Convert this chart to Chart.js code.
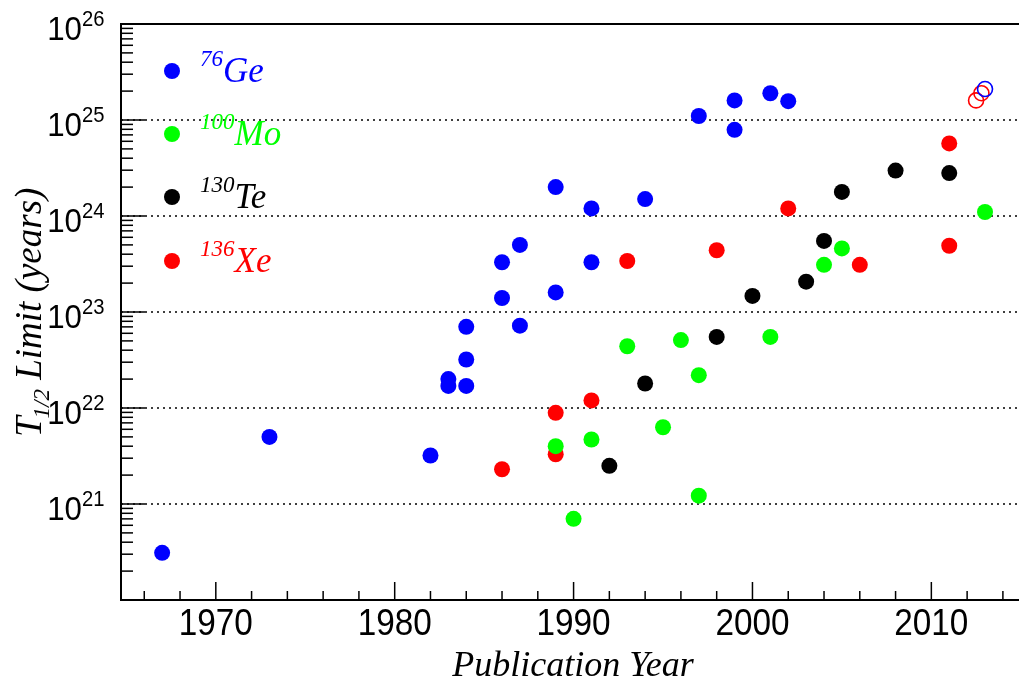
<!DOCTYPE html>
<html>
<head>
<meta charset="utf-8">
<title>Double beta decay half-life limits</title>
<script src="https://cdn.jsdelivr.net/npm/chart.js@4.4.1/dist/chart.umd.min.js"></script>
<style>
  html, body { margin: 0; padding: 0; background: #fff; }
  canvas { display: block; }
</style>
</head>
<body>
<canvas id="limitChart" width="1019" height="690"></canvas>
<script>
// T1/2 limits (years) against publication year, per isotope
const geYears  = [1967, 1973, 1982, 1983, 1983, 1984, 1984, 1984, 1986, 1986, 1987, 1987, 1989, 1989, 1991, 1991, 1994, 1997, 1999, 1999, 2001, 2002];
const geLimits = [3.1e20, 5.0e21, 3.2e21, 2.0e22, 1.7e22, 1.7e22, 3.2e22, 7.0e22, 3.3e23, 1.4e23, 5.0e23, 7.2e22, 2.0e24, 1.6e23, 1.2e24, 3.3e23, 1.5e24, 1.1e25, 1.6e25, 7.9e24, 1.9e25, 1.57e25];

const moYears  = [1989, 1990, 1991, 1993, 1995, 1996, 1997, 1997, 2001, 2004, 2005, 2013];
const moLimits = [4.0e21, 7.0e20, 4.7e21, 4.4e22, 6.3e21, 5.1e22, 2.2e22, 1.22e21, 5.5e22, 3.1e23, 4.6e23, 1.1e24];

const teYears  = [1992, 1994, 1998, 2000, 2003, 2004, 2005, 2008, 2011];
const teLimits = [2.5e21, 1.8e22, 5.5e22, 1.47e23, 2.07e23, 5.5e23, 1.78e24, 2.97e24, 2.8e24];

const xeYears  = [1986, 1989, 1989, 1991, 1993, 1998, 2002, 2006, 2011, 2011];
const xeLimits = [2.3e21, 8.9e21, 3.3e21, 1.2e22, 3.4e23, 4.4e23, 1.2e24, 3.1e23, 5.7e24, 4.9e23];

// projected sensitivities (open markers)
const geProjYears  = [2013];
const geProjLimits = [2.1e25];
const xeProjYears  = [2012.5, 2012.8];
const xeProjLimits = [1.6e25, 1.9e25];

const xLabelYears = [1970, 1980, 1990, 2000, 2010];
const yLabelExponents = [21, 22, 23, 24, 25, 26];

const legendMasses  = ['76', '100', '130', '136'];
const legendSymbols = ['Ge', 'Mo', 'Te', 'Xe'];
const legendColors  = ['#0000ff', '#00ff00', '#000000', '#ff0000'];

const toPoints = (xs, ys) => xs.map((v, i) => ({ x: v, y: ys[i] }));

function filled(xs, ys, color) {
  return { data: toPoints(xs, ys), backgroundColor: color, borderWidth: 0, pointRadius: 8, pointHoverRadius: 8 };
}
function open(xs, ys, color) {
  return { data: toPoints(xs, ys), backgroundColor: 'rgba(0,0,0,0)', borderColor: color, borderWidth: 1.6, pointRadius: 7.5, pointHoverRadius: 7.5 };
}

const SANS = '"Liberation Sans", Arial, sans-serif';
const SERIF = '"Liberation Serif", "Times New Roman", serif';

// axes, ticks, labels, titles and legend drawn on the canvas
const frame = {
  id: 'frame',
  beforeDatasetsDraw(chart) {
    const { ctx, chartArea: a, scales: { x, y } } = chart;
    ctx.save();

    // dotted grid at each decade
    ctx.strokeStyle = '#000';
    ctx.lineWidth = 1.5;
    ctx.setLineDash([2, 4]);
    for (let e = 21; e <= 25; e++) {
      const py = Math.round(y.getPixelForValue(Math.pow(10, e)));
      ctx.beginPath(); ctx.moveTo(a.left, py); ctx.lineTo(a.right, py); ctx.stroke();
    }
    ctx.setLineDash([]);

    // frame lines
    ctx.lineWidth = 2;
    ctx.beginPath();
    ctx.moveTo(a.right, a.top); ctx.lineTo(a.left, a.top);
    ctx.lineTo(a.left, a.bottom); ctx.lineTo(a.right, a.bottom);
    ctx.stroke();

    // y ticks, pointing inward
    ctx.lineWidth = 1.5;
    for (let e = 20; e <= 25; e++) {
      for (let m = 1; m <= 9; m++) {
        const py = y.getPixelForValue(m * Math.pow(10, e));
        const len = m === 1 ? 24 : 12;
        ctx.beginPath(); ctx.moveTo(a.left, py); ctx.lineTo(a.left + len, py); ctx.stroke();
      }
    }
    // x ticks every two years
    for (let yr = 1966; yr <= 2014; yr += 2) {
      const px = x.getPixelForValue(yr);
      const len = yr % 10 === 0 ? 18 : 9;
      ctx.beginPath(); ctx.moveTo(px, a.bottom); ctx.lineTo(px, a.bottom - len); ctx.stroke();
    }

    // tick labels
    ctx.fillStyle = '#000';
    ctx.textBaseline = 'alphabetic';
    xLabelYears.forEach(yr => {
      const px = x.getPixelForValue(yr);
      ctx.save();
      ctx.translate(px, a.bottom + 35);
      ctx.scale(0.9, 1);
      ctx.font = '37px ' + SANS;
      ctx.textAlign = 'center';
      ctx.fillText(String(yr), 0, 0);
      ctx.restore();
    });
    yLabelExponents.forEach(e => {
      const py = y.getPixelForValue(Math.pow(10, e));
      ctx.save();
      ctx.translate(82, py);
      ctx.scale(0.92, 1);
      ctx.font = '34px ' + SANS;
      ctx.textAlign = 'right';
      ctx.fillText('10', 0, 16);
      ctx.font = '22px ' + SANS;
      ctx.textAlign = 'left';
      ctx.fillText(String(e), 0, 2);
      ctx.restore();
    });

    // axis titles
    ctx.font = 'italic 36px ' + SERIF;
    ctx.textAlign = 'center';
    ctx.fillText('Publication Year', 573, 676);

    ctx.save();
    ctx.translate(41, 437);
    ctx.rotate(-Math.PI / 2);
    ctx.textAlign = 'left';
    ctx.font = 'italic 37px ' + SERIF;
    ctx.fillText('T', 0, 0);
    let cx = ctx.measureText('T').width;
    ctx.font = 'italic 23px ' + SERIF;
    ctx.fillText('1/2', cx - 2, 8);
    cx += ctx.measureText('1/2').width - 2;
    ctx.font = 'italic 37px ' + SERIF;
    ctx.fillText(' Limit (years)', cx, 0);
    ctx.restore();

    // legend
    const rows = [71, 134, 197, 261];
    legendSymbols.forEach((sym, i) => {
      const ry = rows[i];
      ctx.fillStyle = legendColors[i];
      ctx.beginPath(); ctx.arc(172, ry, 8, 0, Math.PI * 2); ctx.fill();
      ctx.textAlign = 'left';
      ctx.font = 'italic 23px ' + SERIF;
      ctx.fillText(legendMasses[i], 200, ry - 5);
      const w = ctx.measureText(legendMasses[i]).width;
      ctx.font = 'italic 35px ' + SERIF;
      ctx.fillText(sym, 200 + w, ry + 11);
    });

    ctx.restore();
  }
};

new Chart(document.getElementById('limitChart'), {
  type: 'scatter',
  data: {
    datasets: [
      open(geProjYears, geProjLimits, '#0000ff'),
      open(xeProjYears, xeProjLimits, '#ff0000'),
      filled(teYears, teLimits, '#000000'),
      filled(moYears, moLimits, '#00ff00'),
      filled(xeYears, xeLimits, '#ff0000'),
      filled(geYears, geLimits, '#0000ff')
    ]
  },
  options: {
    responsive: false,
    animation: false,
    layout: { autoPadding: false, padding: { left: 121, top: 24, right: 0, bottom: 90 } },
    scales: {
      x: { type: 'linear', min: 1964.7, max: 2014.9, display: false },
      y: { type: 'logarithmic', min: 1e20, max: 1e26, display: false }
    },
    plugins: { legend: { display: false }, tooltip: { enabled: false } }
  },
  plugins: [frame]
});
</script>
</body>
</html>
